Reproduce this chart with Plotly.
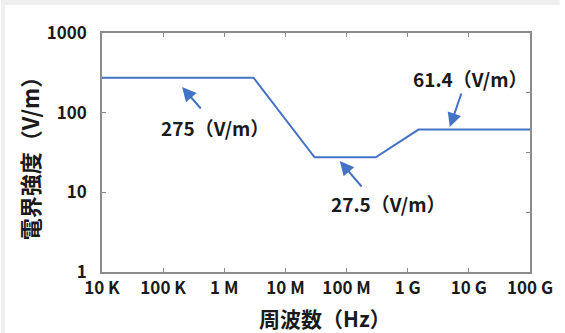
import plotly.graph_objects as go

# Data
freq_hz = [1e4, 3e6, 3e7, 3e8, 1.5e9, 1e11]
field_vm = [275, 275, 27.5, 27.5, 61.4, 61.4]
x_tick_vals = [1e4, 1e5, 1e6, 1e7, 1e8, 1e9, 1e10, 1e11]
x_tick_text = ["10 K", "100 K", "1 M", "10 M", "100 M", "1 G", "10 G", "100 G"]
y_tick_vals = [1, 10, 100, 1000]
y_tick_text = ["1", "10", "100", "1000"]
labels = ["275（V/m）", "27.5（V/m）", "61.4（V/m）"]
x_title = "周波数（Hz）"
y_title = "電界強度（V/m）"

BLUE = "#4472C4"
AX = "#8c8c8c"
FONT = "Noto Sans CJK JP"
TXT = "#1a1a1a"

fig = go.Figure()
fig.add_trace(go.Scatter(x=freq_hz, y=field_vm, mode="lines",
                         line=dict(color=BLUE, width=2), showlegend=False,
                         hoverinfo="skip"))
# invisible trace for the right-hand axis ticks
fig.add_trace(go.Scatter(x=[1e4], y=[0], yaxis="y2", mode="markers",
                         marker=dict(opacity=0), showlegend=False, hoverinfo="skip"))

fig.update_layout(
    width=565, height=333,
    margin=dict(l=102, r=30, t=33, b=61),
    paper_bgcolor="white", plot_bgcolor="white",
    font=dict(family=FONT, color=TXT),
    xaxis=dict(type="log", range=[4, 11], tickvals=x_tick_vals, ticktext=x_tick_text,
               ticks="inside", ticklen=4, tickcolor=AX, tickwidth=1.2,
               showline=True, linecolor=AX, linewidth=1.5, mirror="ticks",
               showgrid=False, zeroline=False,
               tickfont=dict(size=17, family=FONT, weight="bold", color=TXT)),
    yaxis=dict(type="log", range=[0, 3], tickvals=y_tick_vals, ticktext=y_tick_text,
               ticks="inside", ticklen=4, tickcolor=AX, tickwidth=1.2,
               showline=True, linecolor=AX, linewidth=1.5, mirror=True,
               showgrid=False, zeroline=False, ticklabelstandoff=10,
               tickfont=dict(size=17, family=FONT, weight="bold", color=TXT)),
    yaxis2=dict(overlaying="y", side="right", range=[0, 4], tickvals=[1, 2, 3],
                showticklabels=False, ticks="inside", ticklen=4, tickcolor=AX,
                tickwidth=1.2, showgrid=False, zeroline=False, showline=False),
)

# axis titles
fig.add_annotation(text=x_title, xref="paper", yref="paper", x=0.522, y=-0.1925,
                   xanchor="center", yanchor="middle", showarrow=False,
                   font=dict(size=21, family=FONT, weight="bold", color=TXT))
fig.add_annotation(text=y_title, xref="paper", yref="paper", x=-0.1709, y=0.50,
                   xanchor="center", yanchor="middle", showarrow=False, textangle=-90,
                   font=dict(size=22, family=FONT, weight="bold", color=TXT))

# Arrow + label positions (log10 data coordinates)
ann_head = [(5.31, 2.322), (7.89, 1.393), (9.689, 1.82)]
ann_tail_px = [(20, 23), (23, 27), (12, -35)]
ann_text_pos = [(5.85, 1.82), (8.69, 0.866), (10.02, 2.43)]

for (hx, hy), (ax, ay), (tx, ty), lab in zip(ann_head, ann_tail_px, ann_text_pos, labels):
    fig.add_annotation(x=hx, y=hy, xref="x", yref="y", ax=ax, ay=ay,
                       axref="pixel", ayref="pixel", text="", showarrow=True,
                       arrowhead=2, arrowsize=1.4, arrowwidth=2, arrowcolor=BLUE)
    fig.add_annotation(x=tx, y=ty, xref="x", yref="y", text=lab, showarrow=False,
                       font=dict(size=19, family=FONT, weight="bold", color=TXT))

# light grey frame strips on top and left
fig.add_shape(type="rect", xref="paper", yref="paper", x0=-102/433, x1=1 + 30/433,
              y0=1 + 28/239, y1=1 + 33/239, fillcolor="#efefef", line=dict(width=0), layer="above")
fig.add_shape(type="rect", xref="paper", yref="paper", x0=-102/433, x1=-98/433,
              y0=-61/239, y1=1 + 33/239, fillcolor="#efefef", line=dict(width=0), layer="above")

fig.write_html("out.html", config={"displayModeBar": False},
               post_script="document.body.style.margin='0';document.body.style.overflow='hidden';")
